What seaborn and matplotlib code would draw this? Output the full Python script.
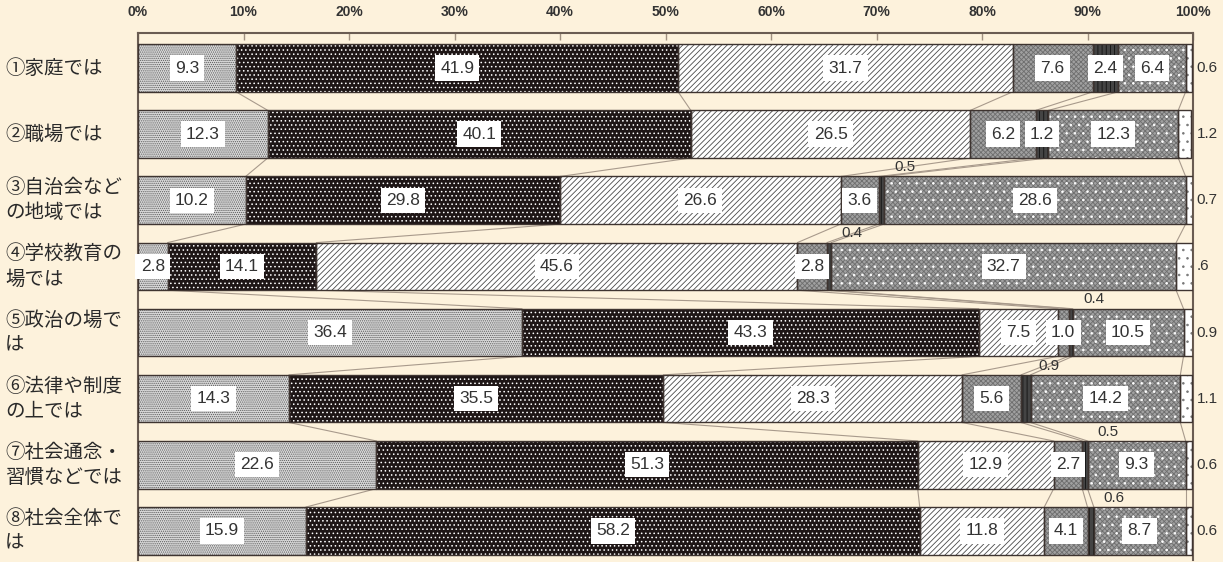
import numpy as np
import matplotlib.pyplot as plt
import matplotlib.transforms as mtransforms
import seaborn as sns

# Data (percent, per row)
categories = ["①家庭では", "②職場では", "③自治会など\nの地域では", "④学校教育の\n場では",
              "⑤政治の場で\nは", "⑥法律や制度\nの上では", "⑦社会通念・\n習慣などでは", "⑧社会全体で\nは"]
seg1 = [9.3, 12.3, 10.2, 2.8, 36.4, 14.3, 22.6, 15.9]
seg2 = [41.9, 40.1, 29.8, 14.1, 43.3, 35.5, 51.3, 58.2]
seg3 = [31.7, 26.5, 26.6, 45.6, 7.5, 28.3, 12.9, 11.8]
seg4 = [7.6, 6.2, 3.6, 2.8, 1.0, 5.6, 2.7, 4.1]
seg5 = [2.4, 1.2, 0.5, 0.4, 0.4, 0.9, 0.5, 0.6]
seg6 = [6.4, 12.3, 28.6, 32.7, 10.5, 14.2, 9.3, 8.7]
seg7 = [0.6, 1.2, 0.7, 1.6, 0.9, 1.1, 0.6, 0.6]
seg7_labels = ["0.6", "1.2", "0.7", ".6", "0.9", "1.1", "0.6", "0.6"]
pct_ticks = [0, 10, 20, 30, 40, 50, 60, 70, 80, 90, 100]

segments = [seg1, seg2, seg3, seg4, seg5, seg6, seg7]

# fill styles (face, hatch, hatch colour, optional overlay hatch in white)
styles = [
    dict(fc="#dadada", hatch="........", hc="#5a5a5a", over=None),
    dict(fc="#1e1616", hatch="....", hc="#ffffff", over=None),
    dict(fc="#ffffff", hatch="//////", hc="#4a4a4a", over=None),
    dict(fc="#a0a0a0", hatch="xxxxxxx", hc="#6e6e6e", over=None),
    dict(fc="#444444", hatch="||||", hc="#111111", over=None),
    dict(fc="#a0a0a0", hatch="xxxxxxx", hc="#6e6e6e", over=".."),
    dict(fc="#ffffff", hatch="..", hc="#777777", over=None),
]

bg = "#fdf2dc"
sns.set_theme(style="white")
plt.rcParams["font.family"] = ["Noto Sans CJK JP", "DejaVu Sans"]
plt.rcParams["hatch.linewidth"] = 0.6
num_font = ["Liberation Sans", "DejaVu Sans"]

fig = plt.figure(figsize=(12.23, 5.62), dpi=100, facecolor=bg)
ax = fig.add_axes([138 / 1223, 2 / 562, (1193 - 138) / 1223, (562 - 33 - 2) / 562])
ax.set_facecolor(bg)

bar_h = 0.72
rows = np.arange(len(categories))
lefts = np.cumsum([np.zeros(len(categories))] + [np.array(s) for s in segments[:-1]], axis=0)

# bars
for vals, left, st in zip(segments, lefts, styles):
    sns.barplot(x=vals, y=categories, order=categories, orient="h", left=list(left),
                color=st["fc"], saturation=1, errorbar=None, width=bar_h,
                hatch=st["hatch"], edgecolor=st["hc"], linewidth=0, ax=ax, zorder=2)
    if st["over"]:
        ax.barh(rows, vals, left=left, height=bar_h, fill=False, hatch=st["over"],
                edgecolor="white", linewidth=0, zorder=3)
    ax.barh(rows, vals, left=left, height=bar_h, fill=False,
            edgecolor="#3e3430", linewidth=1.0, zorder=4)

# connector lines between neighbouring bars
bounds = np.cumsum(np.array(segments[:-1]), axis=0)
for k in range(bounds.shape[0]):
    for i in range(len(categories) - 1):
        ax.plot([bounds[k, i], bounds[k, i + 1]], [i + bar_h / 2, i + 1 - bar_h / 2],
                color="#a89a8c", lw=0.8, zorder=1)

# value labels
box = dict(boxstyle="square,pad=0.3", fc="white", ec="none")
for j, (vals, left) in enumerate(zip(segments[:-1], lefts[:-1])):
    for i, v in enumerate(vals):
        mid = left[i] + v / 2
        if j == 4 and i >= 2:
            ax.text(mid + 2.2, i - 0.5, f"{v:.1f}", ha="center", va="center",
                    fontsize=11, color="#333333", family=num_font, zorder=6)
        else:
            ax.text(mid, i, f"{v:.1f}", ha="center", va="center", fontsize=12.5,
                    color="#333333", family=num_font, bbox=box, zorder=6)
for i, lab in enumerate(seg7_labels):
    ax.text(100.35, i, lab, ha="left", va="center", fontsize=11, color="#333333",
            family=num_font, clip_on=False, zorder=6)

# category labels on the left
trans = mtransforms.blended_transform_factory(fig.transFigure, ax.transData)
for i, lab in enumerate(categories):
    ax.text(5 / 1223, i, lab, transform=trans, ha="left", va="center",
            fontsize=14, color="#2a2a2a", linespacing=1.25)

ax.set_xlim(0, 100)
ax.set_ylim(7.44, -0.53)
ax.set_yticks([])
ax.set_ylabel("")
ax.set_xlabel("")
ax.xaxis.tick_top()
ax.set_xticks(pct_ticks)
ax.set_xticklabels([f"{t}%" for t in pct_ticks], fontsize=10, color="#333333",
                   fontweight="bold", family=num_font)
ax.tick_params(axis="x", direction="in", length=5, width=1, color="#a09080", pad=10, top=True, bottom=False)
for side in ["left", "top", "right"]:
    ax.spines[side].set_color("#6a5c52")
    ax.spines[side].set_linewidth(1.5)
ax.spines["bottom"].set_visible(False)

fig.savefig("out.png", dpi=100, facecolor=bg)
